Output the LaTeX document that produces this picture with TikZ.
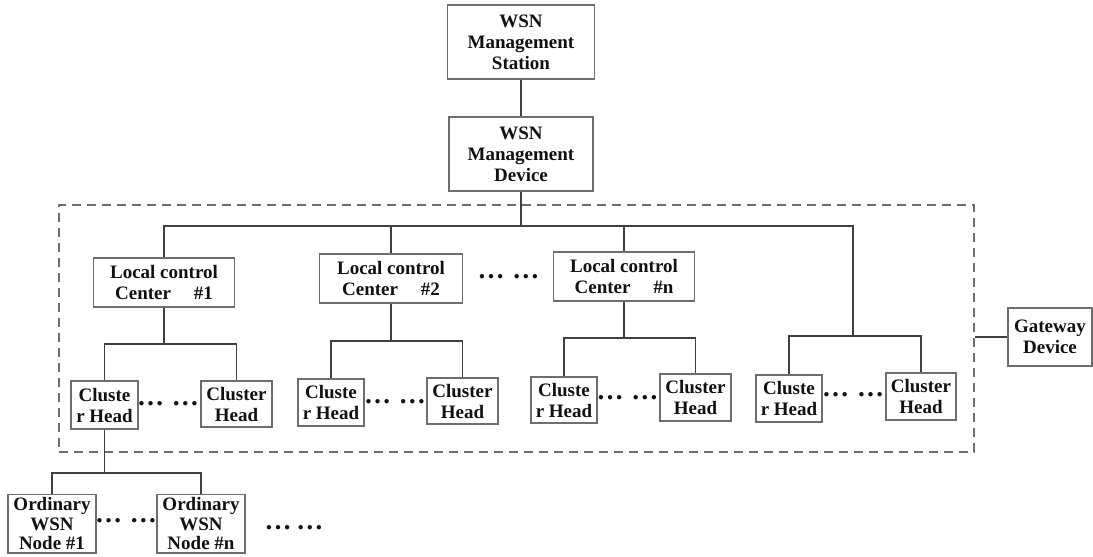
\documentclass[tikz,border=0pt]{standalone}
\usepackage{fontspec}
\setmainfont{Liberation Serif}
\definecolor{linec}{HTML}{404040}
\definecolor{boxc}{HTML}{6E6E6E}
\definecolor{txtc}{HTML}{111111}
\begin{document}
\begin{tikzpicture}[x=1pt,y=-1pt,
  box/.style={draw=boxc,line width=1.2pt,fill=white,inner sep=0pt,align=center,text=txtc,
    font=\bfseries\fontsize{19}{21}\selectfont},
  conn/.style={draw=linec,line width=1.8pt},
  dashbox/.style={draw=boxc,line width=1.4pt,dash pattern=on 9pt off 6pt,inner sep=0pt},
  dots/.style={anchor=base,inner sep=0pt,text=txtc,font=\bfseries\fontsize{27}{27}\selectfont}]
\clip (0,0) rectangle (1093,557);
\fill[white] (0,0) rectangle (1093,557);
% dashed region
\node[dashbox,minimum width=915pt,minimum height=247pt] (cluster) at (516.5,328.5) {};
% top
\node[box,minimum width=147pt,minimum height=74pt] (st) at (521,42) {WSN\\Management\\Station};
\node[box,minimum width=144pt,minimum height=74pt] (dev) at (521,154) {WSN\\Management\\Device};
% local control centers
\node[box,minimum width=141pt,minimum height=49pt] (lcc1) at (164,282.5) {Local control\\Center\hspace{1.2em}\#1};
\node[box,minimum width=143pt,minimum height=49pt] (lcc2) at (391,278.5) {Local control\\Center\hspace{1.2em}\#2};
\node[box,minimum width=141pt,minimum height=49pt] (lccn) at (624,276.5) {Local control\\Center\hspace{1.2em}\#n};
% cluster heads
\node[box,minimum width=67pt,minimum height=48pt] (ch1a) at (104.5,405) {Cluste\\r Head};
\node[box,minimum width=71pt,minimum height=46pt] (ch1b) at (236.5,404) {Cluster\\Head};
\node[box,minimum width=66pt,minimum height=47pt] (ch2a) at (331,402.5) {Cluste\\r Head};
\node[box,minimum width=71pt,minimum height=46pt] (ch2b) at (462.5,401) {Cluster\\Head};
\node[box,minimum width=66pt,minimum height=46pt] (chna) at (564,400) {Cluste\\r Head};
\node[box,minimum width=71pt,minimum height=47pt] (chnb) at (695.5,397.5) {Cluster\\Head};
\node[box,minimum width=66pt,minimum height=47pt] (chra) at (789,398.5) {Cluste\\r Head};
\node[box,minimum width=70pt,minimum height=47pt] (chrb) at (921,396.5) {Cluster\\Head};
% gateway
\node[box,minimum width=84pt,minimum height=58pt] (gw) at (1050,337) {Gateway\\Device};
% ordinary nodes
\node[box,anchor=north,minimum width=88pt,inner ysep=3pt,font=\bfseries\fontsize{19}{19.5}\selectfont] (on1) at (52,494) {Ordinary\\WSN\\Node \#1};
\node[box,anchor=north,minimum width=88pt,inner ysep=3pt,font=\bfseries\fontsize{19}{19.5}\selectfont] (onn) at (201,494) {Ordinary\\WSN\\Node \#n};
% dots
\node[dots] (d1) at (168,405) {…\hspace{8pt}…};
\node[dots] (d2) at (395,403) {…\hspace{8pt}…};
\node[dots] (d3) at (627.5,399) {…\hspace{8pt}…};
\node[dots] (d4) at (853,396) {…\hspace{8pt}…};
\node[dots] (d5) at (508.5,278) {…\hspace{8pt}…};
\node[dots] (d6) at (126,522) {…\hspace{8pt}…};
\node[dots] (d7) at (294,529) {…\hspace{5pt}…};
% coordinates
\coordinate (bus) at (521,226);
\coordinate (rj) at (853,336);
\coordinate (j1) at (164,344);
\coordinate (j2) at (391,341);
\coordinate (jn) at (624,338);
\coordinate (j0) at (104.5,473);
% connectors
\draw[conn] (st.south) -- (dev.north);
\draw[conn] (dev.south) -- (bus);
\draw[conn] (lcc1.north) |- (bus) -| (rj);
\draw[conn] (lcc2.north) -- (lcc2.north |- bus);
\draw[conn] (lccn.north) -- (lccn.north |- bus);
\draw[conn] (lcc1.south) -- (j1);
\draw[conn] (ch1a.north) |- (j1) -| (ch1b.north);
\draw[conn] (lcc2.south) -- (j2);
\draw[conn] (ch2a.north) |- (j2) -| (ch2b.north);
\draw[conn] (lccn.south) -- (jn);
\draw[conn] (chna.north) |- (jn) -| (chnb.north);
\draw[conn] (chra.north) |- (rj) -| (chrb.north);
\draw[conn] (ch1a.south) -- (j0);
\draw[conn] (on1.north) |- (j0) -| (onn.north);
\draw[conn] (gw.west) -- (gw.west -| cluster.east);
\end{tikzpicture}
\end{document}
